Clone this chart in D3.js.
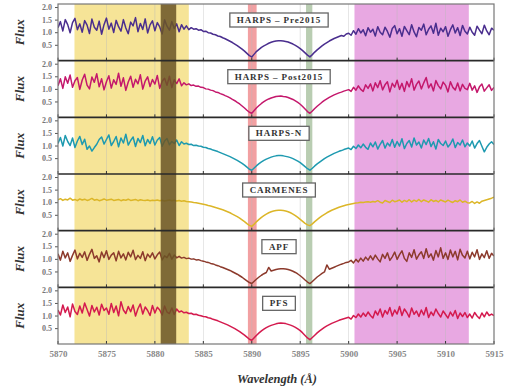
<!DOCTYPE html>
<html>
<head>
<meta charset="utf-8">
<script src="https://cdn.jsdelivr.net/npm/d3@7"></script>
<style>
  body { margin: 0; background: #fff; }
  svg { display: block; }
</style>
</head>
<body>
<svg id="chart" width="512" height="391"></svg>
<script>
// flux per 0.25 A step, 5870 -> 5915 (rows of 10 points = 2.5 A)
const harpsPre = [
  1.18,1.42,1.05,1.50,1.30,0.98,1.38,1.55,1.10,1.33,
  1.00,1.46,1.28,0.95,1.52,1.20,1.08,1.44,0.92,1.30,
  1.56,1.12,1.36,0.99,1.47,1.22,1.04,1.50,1.17,0.94,
  1.40,1.25,1.58,1.02,1.35,1.11,1.53,0.97,1.29,1.45,
  1.06,1.38,1.21,0.93,1.49,1.24,1.08,1.42,1.15,1.33,
  1.02,1.30,1.12,1.25,1.10,1.18,1.12,1.14,1.08,1.10,
  1.03,1.04,0.98,0.97,0.92,0.90,0.85,0.83,0.78,0.74,
  0.69,0.64,0.59,0.53,0.47,0.40,0.33,0.25,0.16,0.07,
  0.02,0.13,0.24,0.32,0.40,0.46,0.51,0.56,0.60,0.63,
  0.65,0.66,0.66,0.65,0.63,0.61,0.57,0.53,0.48,0.42,
  0.35,0.27,0.18,0.09,0.02,0.11,0.21,0.30,0.38,0.46,
  0.53,0.59,0.65,0.70,0.75,0.79,0.83,0.87,0.84,0.93,
  0.96,0.88,1.06,0.92,1.14,0.97,1.10,0.86,1.18,1.00,
  1.12,0.85,1.22,1.00,0.90,1.20,1.03,0.80,1.15,1.26,
  0.94,1.14,0.84,1.23,1.06,0.90,1.30,1.01,0.82,1.19,
  1.08,1.32,0.90,1.12,1.25,0.96,1.36,0.88,1.16,1.02,
  1.22,0.84,1.10,1.29,0.97,1.18,0.87,1.27,1.04,0.93,
  1.20,1.00,0.88,1.24,1.08,0.94,1.28,1.05,0.90,1.16,
  1.08
];
const harpsPost = [
  1.12,1.40,1.02,1.48,1.22,1.55,1.06,1.32,1.45,0.98,
  1.35,1.58,1.15,1.00,1.47,1.26,1.60,1.08,1.40,0.96,
  1.28,1.52,1.03,1.36,1.18,1.62,1.10,1.44,0.94,1.27,
  1.50,1.06,1.38,1.20,1.56,0.99,1.31,1.48,1.09,1.37,
  1.19,1.53,1.02,1.30,1.42,1.14,1.50,1.05,1.36,1.21,
  1.40,1.12,1.24,1.16,1.20,1.13,1.15,1.10,1.11,1.06,
  1.05,1.00,0.99,0.95,0.93,0.88,0.86,0.81,0.78,0.73,
  0.69,0.64,0.58,0.53,0.46,0.40,0.32,0.24,0.15,0.07,
  0.03,0.14,0.25,0.34,0.42,0.49,0.55,0.60,0.64,0.67,
  0.70,0.71,0.72,0.70,0.69,0.66,0.62,0.58,0.52,0.46,
  0.39,0.30,0.20,0.10,0.03,0.12,0.22,0.31,0.39,0.47,
  0.54,0.60,0.66,0.71,0.76,0.80,0.84,0.87,0.91,0.94,
  0.97,0.90,1.06,0.95,1.12,0.98,0.90,1.16,1.02,1.20,
  0.92,1.24,1.05,1.32,0.96,1.16,1.28,0.88,1.22,1.07,
  1.34,0.98,1.22,0.90,1.29,1.08,1.40,0.95,1.18,1.31,
  1.00,1.24,1.45,1.04,1.20,0.92,1.33,1.13,1.00,1.27,
  1.14,0.88,1.28,1.06,0.96,1.23,0.92,1.18,1.02,0.97,
  1.22,0.95,1.12,0.86,1.08,1.19,0.91,1.04,1.16,0.94,
  1.06
];
const harpsN = [
  1.08,1.32,0.98,1.40,1.16,1.00,1.30,0.92,1.18,1.36,
  1.04,1.25,0.85,0.98,0.78,0.92,1.05,1.24,1.34,1.06,
  1.24,1.42,1.00,1.16,1.36,0.95,1.30,1.10,1.45,1.02,
  1.20,1.34,0.96,1.28,1.12,1.40,0.99,1.24,1.08,1.35,
  1.02,1.22,1.32,0.97,1.18,1.28,1.03,1.16,1.08,1.22,
  1.00,1.15,1.06,1.09,1.04,1.05,1.00,1.01,0.98,0.97,
  0.93,0.92,0.88,0.86,0.82,0.79,0.76,0.72,0.68,0.64,
  0.60,0.56,0.51,0.46,0.41,0.35,0.29,0.22,0.14,0.06,
  0.02,0.11,0.20,0.28,0.35,0.41,0.46,0.50,0.54,0.57,
  0.59,0.60,0.60,0.59,0.57,0.55,0.52,0.48,0.43,0.38,
  0.32,0.24,0.16,0.08,0.02,0.10,0.19,0.27,0.34,0.41,
  0.48,0.54,0.59,0.64,0.69,0.73,0.77,0.80,0.84,0.87,
  0.90,0.84,0.97,0.88,1.02,0.91,1.06,0.93,0.85,1.10,
  0.95,1.14,0.86,1.05,1.20,0.90,1.10,0.98,1.24,0.93,
  1.16,0.98,1.27,0.88,1.08,1.20,0.94,1.30,1.02,1.14,
  0.90,1.22,1.04,1.28,0.96,1.15,0.86,1.24,1.08,1.00,
  1.18,0.94,1.06,1.26,0.92,1.12,1.02,1.22,0.95,1.10,
  0.98,1.18,0.90,1.08,1.20,0.97,0.75,0.93,1.06,1.15,
  1.04
];
const carmenes = [
  1.10,1.14,1.07,1.12,1.09,1.16,1.08,1.11,1.06,1.13,
  1.09,1.12,1.07,1.10,1.15,1.08,1.11,1.06,1.09,1.13,
  1.08,1.10,1.12,1.07,1.09,1.11,1.06,1.10,1.08,1.12,
  1.07,1.09,1.11,1.06,1.10,1.08,1.07,1.09,1.06,1.08,
  1.07,1.09,1.06,1.08,1.05,1.07,1.09,1.06,1.08,1.05,
  1.07,1.04,1.06,1.03,1.02,1.01,0.99,0.98,0.96,0.94,
  0.92,0.90,0.87,0.85,0.82,0.79,0.76,0.73,0.70,0.66,
  0.62,0.58,0.53,0.48,0.43,0.37,0.30,0.23,0.15,0.08,
  0.04,0.13,0.23,0.32,0.40,0.47,0.53,0.58,0.62,0.65,
  0.67,0.68,0.68,0.67,0.65,0.62,0.58,0.53,0.47,0.40,
  0.32,0.24,0.16,0.10,0.07,0.14,0.23,0.31,0.39,0.46,
  0.52,0.58,0.63,0.68,0.72,0.76,0.80,0.83,0.86,0.89,
  0.91,0.93,0.95,0.97,0.98,1.00,0.99,1.01,1.02,1.00,
  1.03,1.01,1.06,1.00,0.97,1.07,1.03,0.99,1.08,1.02,
  1.05,1.09,1.00,1.07,1.02,1.10,1.01,1.08,1.03,1.11,
  1.02,1.09,1.05,1.00,1.10,1.03,1.07,1.01,1.09,1.05,
  1.01,1.08,1.03,0.99,1.06,1.02,1.09,1.00,1.04,0.98,
  0.97,1.03,0.95,1.01,0.96,1.04,1.07,1.10,1.13,1.16,
  1.20
];
const apf = [
  1.20,0.95,1.30,1.04,1.24,0.90,1.14,1.35,1.00,1.22,
  1.06,1.28,0.94,1.18,1.38,1.02,1.12,0.88,1.27,1.05,
  1.32,0.98,1.15,1.24,0.92,1.30,1.04,1.20,0.96,1.26,
  1.08,1.34,0.97,1.14,1.02,1.28,0.93,1.19,1.06,1.24,
  1.00,1.16,1.27,0.96,1.12,1.05,1.22,0.99,1.15,1.04,
  1.10,1.03,1.06,1.01,1.03,0.99,1.00,0.96,0.97,0.93,
  0.91,0.88,0.86,0.82,0.80,0.76,0.73,0.69,0.66,0.62,
  0.58,0.54,0.49,0.44,0.39,0.33,0.27,0.20,0.13,0.06,
  0.02,0.11,0.20,0.28,0.35,0.41,0.46,0.66,0.52,0.55,
  0.58,0.60,0.61,0.61,0.60,0.58,0.55,0.51,0.46,0.40,
  0.33,0.25,0.16,0.08,0.02,0.10,0.19,0.28,0.35,0.42,
  0.48,0.76,0.59,0.63,0.67,0.71,0.75,0.79,0.82,0.86,
  0.88,0.94,0.84,0.98,0.88,1.03,0.91,1.07,0.95,1.12,
  0.96,1.15,1.00,0.88,1.18,1.02,1.24,0.94,1.08,1.27,
  0.98,1.17,1.32,1.02,0.90,1.24,1.06,1.36,0.99,1.16,
  1.28,1.02,1.40,1.06,1.20,0.95,1.33,1.08,1.44,1.02,
  1.24,0.98,1.35,1.08,1.30,0.96,1.38,1.14,1.04,1.30,
  1.00,1.26,1.08,1.36,0.98,1.20,1.05,1.32,1.02,1.22,
  1.11
];
const pfs = [
  1.22,1.02,1.42,1.12,1.34,0.95,1.46,1.16,1.04,1.38,
  1.10,1.50,1.24,0.98,1.40,1.14,1.33,1.02,1.45,1.20,
  1.30,1.05,1.48,1.12,1.38,0.99,1.55,1.22,1.08,1.36,
  1.15,1.42,0.98,1.27,1.46,1.06,1.34,1.20,1.00,1.40,
  1.10,1.33,1.22,1.02,1.38,1.14,1.08,1.30,1.04,1.26,
  1.14,1.18,1.11,1.13,1.08,1.09,1.04,1.05,1.01,0.99,
  0.96,0.95,0.91,0.89,0.85,0.82,0.79,0.75,0.71,0.67,
  0.63,0.58,0.53,0.48,0.42,0.36,0.29,0.22,0.14,0.06,
  0.02,0.12,0.22,0.31,0.39,0.46,0.52,0.57,0.61,0.64,
  0.67,0.69,0.70,0.69,0.68,0.65,0.62,0.58,0.53,0.47,
  0.40,0.31,0.21,0.11,0.04,0.13,0.22,0.31,0.39,0.46,
  0.53,0.59,0.64,0.69,0.73,0.77,0.81,0.84,0.87,0.90,
  0.93,0.86,1.00,0.92,1.06,0.94,1.10,0.97,1.14,1.00,
  0.90,1.18,1.02,1.26,0.94,1.20,1.06,1.32,0.98,1.22,
  1.06,1.36,1.00,1.26,1.12,0.94,1.30,1.05,1.18,0.96,
  1.22,1.02,1.32,0.92,1.14,1.00,1.26,1.08,0.94,1.18,
  1.04,0.90,1.14,0.98,1.20,0.88,1.10,0.96,1.12,0.92,
  1.06,0.90,1.12,0.98,0.88,1.10,0.95,1.14,1.00,1.06,
  1.00
];

const instruments = ["HARPS – Pre2015", "HARPS – Post2015", "HARPS-N", "CARMENES", "APF", "PFS"];
const seriesList = [harpsPre, harpsPost, harpsN, carmenes, apf, pfs];
const colors = ["#4a2e8e", "#c4186c", "#1e9ab0", "#dcb628", "#8c3a2c", "#d41a4e"];

const xTicks = d3.range(5870, 5916, 5);
const yTicks = [0.5, 1.0, 1.5, 2.0];

// shaded wavelength ranges (A)
const yellowBand = [5871.7, 5883.5];
const brownBand = [5880.6, 5882.2];
const redBand = [5889.6, 5890.5];
const greenBand = [5895.6, 5896.25];
const pinkBand = [5900.6, 5912.4];

const svg = d3.select("#chart");
const plotTop = 4, plotBottom = 344;
const panelH = (plotBottom - plotTop) / seriesList.length;

const x = d3.scaleLinear().domain([5870, 5915]).range([58, 494]);
const wave = i => 5870 + i * 0.25;

svg.append("defs").append("clipPath").attr("id", "plotclip")
  .append("rect")
  .attr("x", x(5870)).attr("y", plotTop)
  .attr("width", x(5915) - x(5870)).attr("height", plotBottom - plotTop);

function band(range, fill, opacity) {
  svg.append("rect")
    .attr("x", x(range[0]))
    .attr("y", plotTop)
    .attr("width", x(range[1]) - x(range[0]))
    .attr("height", plotBottom - plotTop)
    .attr("fill", fill)
    .attr("opacity", opacity);
}

band(yellowBand, "#f6e497", 1);
band(pinkBand, "#e8a8e2", 1);
band(redBand, "#f2a0a2", 1);
band(greenBand, "#b9cdb2", 1);

// faint vertical grid
svg.append("g").selectAll("line")
  .data(xTicks.slice(1, -1))
  .join("line")
  .attr("x1", d => x(d)).attr("x2", d => x(d))
  .attr("y1", plotTop).attr("y2", plotBottom)
  .attr("stroke", "#bbb")
  .attr("stroke-width", 0.6)
  .attr("opacity", 0.7);

seriesList.forEach((series, i) => {
  const top = plotTop + i * panelH;
  const bottom = top + panelH;
  const y = d3.scaleLinear().domain([-0.13, 2.12]).range([bottom, top]);

  const line = d3.line()
    .x((d, j) => x(wave(j)))
    .y(d => y(d));

  svg.append("path")
    .datum(series)
    .attr("clip-path", "url(#plotclip)")
    .attr("fill", "none")
    .attr("stroke", colors[i])
    .attr("stroke-width", 1.5)
    .attr("stroke-linejoin", "round")
    .attr("d", line);

  // y axis
  const yAxis = svg.append("g")
    .attr("transform", `translate(${x(5870)},0)`)
    .call(d3.axisLeft(y).tickValues(yTicks).tickFormat(d3.format(".1f")).tickSize(3).tickPadding(3));
  yAxis.select(".domain").remove();
  yAxis.selectAll("line").attr("stroke", "#555");
  yAxis.selectAll("text")
    .attr("font-family", "Liberation Serif")
    .attr("font-weight", "bold")
    .attr("font-size", 8)
    .attr("fill", "#777");

  // small ticks along panel bottom
  svg.append("g").selectAll("line")
    .data(xTicks)
    .join("line")
    .attr("x1", d => x(d)).attr("x2", d => x(d))
    .attr("y1", bottom).attr("y2", bottom - 3)
    .attr("stroke", "#333")
    .attr("stroke-width", 1);

  svg.append("text")
    .attr("transform", `translate(24,${(top + bottom) / 2}) rotate(-90)`)
    .attr("text-anchor", "middle")
    .attr("font-family", "Liberation Serif")
    .attr("font-weight", "bold")
    .attr("font-style", "italic")
    .attr("font-size", 13)
    .attr("fill", "#333")
    .text("Flux");

  // instrument label box
  const lg = svg.append("g").attr("transform", `translate(279,${top + 16})`);
  const t = lg.append("text")
    .attr("text-anchor", "middle")
    .attr("dy", "0.35em")
    .attr("font-family", "Liberation Serif")
    .attr("font-weight", "bold")
    .attr("font-size", 9)
    .attr("letter-spacing", 0.9)
    .attr("fill", "#333")
    .text(instruments[i]);
  const tw = t.node().getComputedTextLength();
  lg.insert("rect", "text")
    .attr("x", -tw / 2 - 7).attr("y", -7)
    .attr("width", tw + 14).attr("height", 14)
    .attr("fill", "#fff")
    .attr("stroke", "#666")
    .attr("stroke-width", 1.3);
});

// dark band sits over the spectra
band(brownBand, "#6a5526", 0.85);

// panel separators and frame
svg.append("g").selectAll("line")
  .data(d3.range(1, seriesList.length))
  .join("line")
  .attr("x1", x(5870)).attr("x2", x(5915))
  .attr("y1", d => plotTop + d * panelH).attr("y2", d => plotTop + d * panelH)
  .attr("stroke", "#2a2a2a")
  .attr("stroke-width", 1.6);

svg.append("rect")
  .attr("x", x(5870)).attr("y", plotTop)
  .attr("width", x(5915) - x(5870)).attr("height", plotBottom - plotTop)
  .attr("fill", "none")
  .attr("stroke", "#777")
  .attr("stroke-width", 1.2);

const xAxis = svg.append("g")
  .attr("transform", `translate(0,${plotBottom})`)
  .call(d3.axisBottom(x).tickValues(xTicks).tickFormat(d3.format("d")).tickSize(0).tickPadding(7));
xAxis.select(".domain").remove();
xAxis.selectAll("text")
  .attr("font-family", "Liberation Serif")
  .attr("font-weight", "bold")
  .attr("font-size", 9)
  .attr("fill", "#888");

svg.append("text")
  .attr("x", 277)
  .attr("y", 383)
  .attr("text-anchor", "middle")
  .attr("font-family", "Liberation Serif")
  .attr("font-weight", "bold")
  .attr("font-style", "italic")
  .attr("font-size", 12.5)
  .attr("fill", "#333")
  .text("Wavelength (Å)");
</script>
</body>
</html>
